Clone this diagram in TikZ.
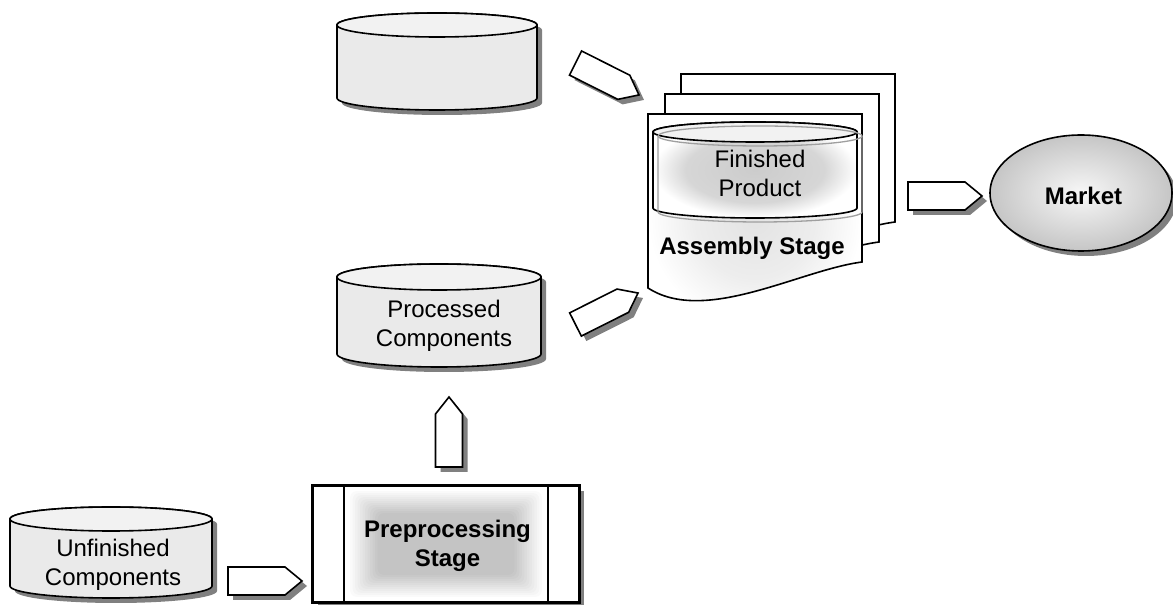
\documentclass[tikz,border=0pt]{standalone}
\usepackage{fontspec}
\setmainfont{Liberation Sans}
\usetikzlibrary{calc,shapes.geometric,shadows}

\definecolor{drumbody}{HTML}{EAEAEA}
\definecolor{drumtop}{HTML}{F2F2F2}
\definecolor{castgray}{HTML}{808080}

% soft grey glow that fades to white at the border of the shaded path
\pgfdeclareradialshading{glow}{\pgfpoint{0bp}{0bp}}{color(0bp)=(gray!40); color(17bp)=(gray!32); color(25bp)=(white); color(50bp)=(white)}
\pgfdeclareradialshading{softglow}{\pgfpoint{0bp}{0bp}}{color(0bp)=(gray!22); color(14bp)=(gray!14); color(25bp)=(white); color(50bp)=(white)}
% light centre, darker rim
\pgfdeclareradialshading{orb}{\pgfpoint{0bp}{0bp}}{color(0bp)=(gray!6); color(25bp)=(gray!45); color(50bp)=(gray!45)}

\tikzset{
  outline/.style={draw=black, line width=1.6pt, line join=miter},
  castshadow/.style={fill=castgray},
  dropcast/.style={drop shadow={shadow xshift=5pt, shadow yshift=-5pt, fill=castgray, opacity=1}},
  haze/.style={fill=black, opacity=0.02, rounded corners=6pt},
  label/.style={font=\fontsize{24}{29}\selectfont, align=center, inner sep=0pt},
  boldlabel/.style={font=\fontsize{24}{29}\selectfont\bfseries, align=center, inner sep=0pt},
}

% storage drum: #1 name, #2 left x, #3 right x, #4 top centre y, #5 bottom centre y, #6 y radius
\newcommand{\drumshape}[6]{%
  \pgfmathsetmacro\drumrx{(#3-#2)/2}%
  \pgfmathsetmacro\drumcx{(#3+#2)/2}%
  \coordinate (#1) at (\drumcx,{(#4+#5)/2});
  \fill[castshadow, shift={(5,-5)}] (#2,#4) -- (#2,#5)
    arc[start angle=180, end angle=360, x radius=\drumrx, y radius=#6] -- (#3,#4)
    arc[start angle=0, end angle=180, x radius=\drumrx, y radius=#6] -- cycle;
  \path[outline, fill=drumbody] (#2,#4) -- (#2,#5)
    arc[start angle=180, end angle=360, x radius=\drumrx, y radius=#6] -- (#3,#4)
    arc[start angle=0, end angle=180, x radius=\drumrx, y radius=#6] -- cycle;
  \path[outline, fill=drumtop] (\drumcx,#4) ellipse[x radius=\drumrx, y radius=#6];
}

% block arrow: #1 name, #2 centre, #3 direction, #4 length, #5 width
\newcommand{\blockarrow}[5]{%
  \coordinate (#1) at (#2);
  \pgfmathsetmacro\bahl{#4/2}%
  \pgfmathsetmacro\bahw{#5/2}%
  \pgfmathsetmacro\babase{#4/2-17}%
  \begin{scope}[shift={(#2)}, shift={(5,-5)}, rotate=#3]
    \fill[castshadow] (-\bahl,-\bahw) -- (\babase,-\bahw) -- (\bahl,0)
      -- (\babase,\bahw) -- (-\bahl,\bahw) -- cycle;
  \end{scope}
  \begin{scope}[shift={(#2)}, rotate=#3]
    \path[outline, fill=white] (-\bahl,-\bahw) -- (\babase,-\bahw) -- (\bahl,0)
      -- (\babase,\bahw) -- (-\bahl,\bahw) -- cycle;
  \end{scope}
}

% outline of one sheet of the assembly stack
\newcommand{\sheetpath}{(648,491) -- (862,491) -- (862,343)
  .. controls (800,335) and (705,280) .. (648,317) -- cycle}

\begin{document}
\begin{tikzpicture}[x=1pt, y=1pt]
  \useasboundingbox (0,0) rectangle (1173,605);
  \fill[white] (0,0) rectangle (1173,605);

  % storage drums
  \drumshape{supply}{337}{537}{580}{507}{12}
  \drumshape{procdrum}{337}{541}{328}{251}{13}
  \drumshape{unfdrum}{10}{212}{86}{19}{12}

  % preprocessing stage
  \node[outline, fill=white, dropcast, minimum width=266pt, minimum height=116pt, inner sep=0pt] (pre) at (446,61) {};
  % soft-edged grey panel built from stacked translucent layers
  \foreach \i in {0,...,11}
    \fill[haze] ($(pre.south west)+({32+6+2.5*\i},{6+2*\i})$) rectangle ($(pre.north east)+({-32-6-2.5*\i},{-6-2*\i})$);
  \draw[outline] ([xshift=32pt]pre.south west) -- ([xshift=32pt]pre.north west);
  \draw[outline] ([xshift=-32pt]pre.south east) -- ([xshift=-32pt]pre.north east);
  \draw[outline] (pre.south west) rectangle (pre.north east);

  % assembly stage: stack of sheets
  \path[outline, fill=white, shift={(33,40)}] \sheetpath;
  \path[outline, fill=white, shift={(17,20)}] \sheetpath;
  \path[outline, shading=softglow] \sheetpath;

  % finished product drum inside the stack
  \coordinate (findrum) at (755,435);
  \path[outline, shading=glow] (653,473) -- (653,397)
    arc[start angle=180, end angle=360, x radius=102, y radius=10] -- (857,473)
    arc[start angle=0, end angle=180, x radius=102, y radius=10] -- cycle;
  \path[outline, fill=drumtop] (755,473) ellipse[x radius=102, y radius=10];
  \begin{scope}[shift={(5,-4)}]
    \draw[gray!75, line width=1.3pt] (653,473) -- (653,397)
      arc[start angle=180, end angle=360, x radius=102, y radius=10] -- (857,473);
    \draw[gray!75, line width=1.3pt] (755,473) ellipse[x radius=102, y radius=10];
  \end{scope}

  % market
  \node[outline, ellipse, shading=orb, dropcast, minimum width=182pt, minimum height=116pt, inner sep=0pt] (market) at (1081,412) {};

  % block arrows
  \blockarrow{a1}{265,24}{0}{74}{28}
  \blockarrow{a2}{449,173}{90}{70}{27}
  \blockarrow{a3}{606.75,296.25}{26.7}{70}{26}
  \blockarrow{a4}{607.25,526}{-26.7}{71}{27}
  \blockarrow{a5}{945,409}{0}{74}{28}

  % labels
  \node[label] (unf) at (113,39.75) {Unfinished\\Components};
  \node[label] (proc) at (444,278.75) {Processed\\Components};
  \node[boldlabel] (pretext) at (447.5,58.75) {Preprocessing\\Stage};
  \node[label] (fin) at (760,431.25) {Finished\\Product};
  \node[boldlabel, anchor=base] (asm) at (752,350) {Assembly Stage};
  \node[boldlabel, anchor=base] (mkt) at (1083.5,400) {Market};
\end{tikzpicture}
\end{document}
